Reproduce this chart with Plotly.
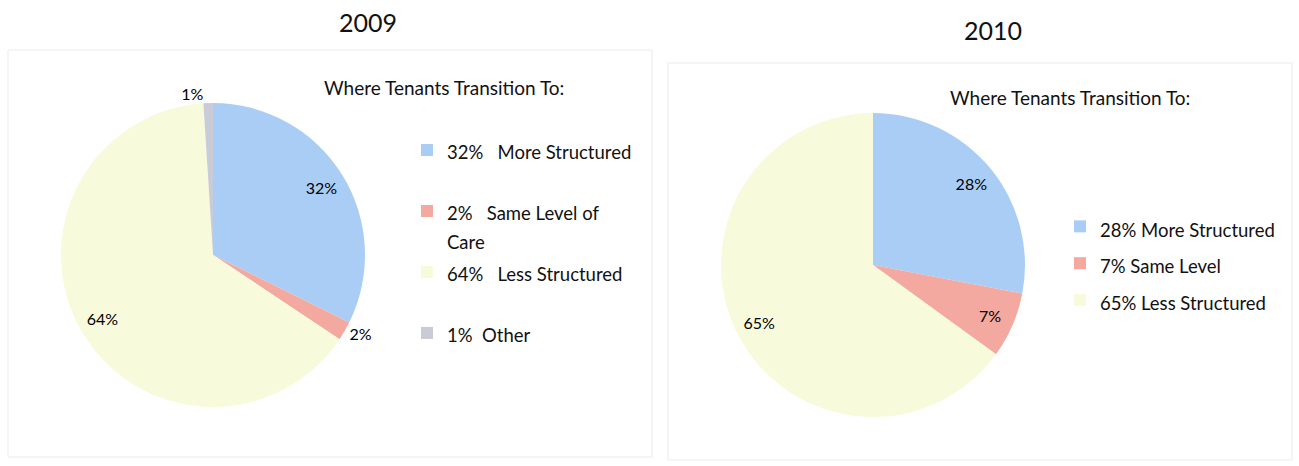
import plotly.graph_objects as go

# ---- data ----
labels_2009 = ["32%\u00a0\u00a0 More Structured", "2%\u00a0\u00a0 Same Level of<br>Care",
               "64%\u00a0\u00a0 Less Structured", "1%\u00a0 Other"]
values_2009 = [32, 2, 64, 1]
text_2009 = ["32%", "2%", "64%", "1%"]
textpos_2009 = ["inside", "outside", "inside", "outside"]

labels_2010 = ["28% More Structured", "7% Same Level", "65% Less Structured"]
values_2010 = [28, 7, 65]
text_2010 = ["28%", "7%", "65%"]
textpos_2010 = ["inside", "inside", "inside"]

years = ["2009", "2010"]
legend_heading = "Where Tenants Transition To:"

W, H = 1299, 466
FONT = "Lato, 'Open Sans', sans-serif"
BLUE, PINK, YELLOW, GRAY = "#AACDF5", "#F4A9A0", "#F8FADC", "#C9CCD6"
CLEAR = "rgba(0,0,0,0)"


def px_x(v):
    return v / W


def px_y(v):
    return 1 - v / H


def leg_label(s, size, pad_lines):
    parts = s.split("<br>")
    body = "<br>".join(f"<span style='font-size:{size}px'>{p}</span>" for p in parts)
    return body + "<br>\u00a0" * pad_lines


leg1_labels = [leg_label(l, 18.5, 2 - len(l.split("<br>"))) for l in labels_2009]
leg2_labels = [leg_label(l, 18.5, 0) for l in labels_2010]

dom1 = dict(x=[px_x(213 - 152), px_x(213 + 152)], y=[px_y(255 + 152), px_y(255 - 152)])
dom2 = dict(x=[px_x(873 - 152), px_x(873 + 152)], y=[px_y(265 + 152), px_y(265 - 152)])

fig = go.Figure()

# coloured pies
for labels, values, colors, dom, leg in [
    (leg1_labels, values_2009, [BLUE, PINK, YELLOW, GRAY], dom1, "legend"),
    (leg2_labels, values_2010, [BLUE, PINK, YELLOW], dom2, "legend2"),
]:
    fig.add_trace(go.Pie(
        labels=labels, values=values, textinfo="none",
        sort=False, direction="clockwise", rotation=0,
        marker=dict(colors=colors, line=dict(width=0)),
        domain=dom, legend=leg, hoverinfo="percent",
    ))

# transparent ring carrying the data labels near the rim
for labels, values, text, tpos, dom in [
    (leg1_labels, values_2009, text_2009, textpos_2009, dom1),
    (leg2_labels, values_2010, text_2010, textpos_2010, dom2),
]:
    fig.add_trace(go.Pie(
        labels=labels, values=values, text=text,
        textinfo="text", textposition=tpos, hole=0.68,
        insidetextorientation="horizontal",
        sort=False, direction="clockwise", rotation=0,
        marker=dict(colors=[CLEAR] * len(values), line=dict(width=0)),
        textfont=dict(family=FONT, size=16, color="#000"),
        domain=dom, showlegend=False, hoverinfo="skip",
    ))

fig.update_layout(
    width=W, height=H,
    margin=dict(l=0, r=0, t=0, b=0),
    paper_bgcolor="white", plot_bgcolor="white",
    font=dict(family=FONT, color="#111"),
    legend=dict(x=px_x(407), y=px_y(129), xanchor="left", yanchor="top",
                font=dict(size=22.3, family=FONT, color="#111"), valign="top",
                bgcolor=CLEAR),
    legend2=dict(x=px_x(1060), y=px_y(203), xanchor="left", yanchor="top",
                 font=dict(size=26, family=FONT, color="#111"), valign="middle",
                 bgcolor=CLEAR),
    shapes=[
        dict(type="rect", xref="paper", yref="paper",
             x0=px_x(8), x1=px_x(652), y0=px_y(457), y1=px_y(50),
             line=dict(color="#EBEBEB", width=1), layer="below"),
        dict(type="rect", xref="paper", yref="paper",
             x0=px_x(668), x1=px_x(1292), y0=px_y(460), y1=px_y(63),
             line=dict(color="#EBEBEB", width=1), layer="below"),
    ],
    annotations=[
        dict(text=years[0], x=px_x(368), y=px_y(22), xref="paper", yref="paper",
             xanchor="center", yanchor="middle",
             showarrow=False, font=dict(size=25, family=FONT, color="#111")),
        dict(text=years[1], x=px_x(993), y=px_y(30), xref="paper", yref="paper",
             xanchor="center", yanchor="middle",
             showarrow=False, font=dict(size=25, family=FONT, color="#111")),
        dict(text=legend_heading, x=px_x(444), y=px_y(87), xref="paper", yref="paper",
             xanchor="center", yanchor="middle",
             showarrow=False, font=dict(size=19, family=FONT, color="#111")),
        dict(text=legend_heading, x=px_x(1070), y=px_y(97), xref="paper", yref="paper",
             xanchor="center", yanchor="middle",
             showarrow=False, font=dict(size=19, family=FONT, color="#111")),
    ],
)

fig.write_html("out.html", config={"displayModeBar": False},
               post_script="document.body.style.margin='0';")
